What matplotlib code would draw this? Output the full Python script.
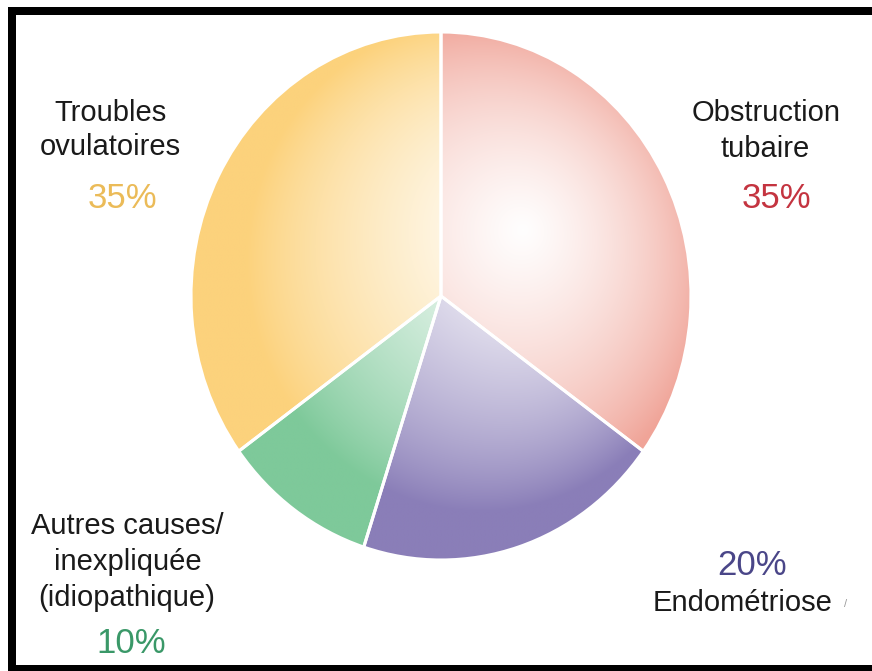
import numpy as np
import matplotlib
matplotlib.use('Agg')
import matplotlib.pyplot as plt
from matplotlib.patches import Rectangle

plt.rcParams['font.family'] = ['Liberation Sans', 'DejaVu Sans']

# Causes d'infertilité (ordre horaire depuis midi)
causes = ['Obstruction tubaire', 'Endométriose', 'Autres causes', 'Troubles ovulatoires']
parts = [35, 20, 10, 35]
rim_colors = ['#f0a498', '#8a7eb8', '#7ec99a', '#fcd27c']
pct_colors = ['#c43440', '#4a4688', '#3a9868', '#ebbb58']

W, H = 872, 671
fig = plt.figure(figsize=(W / 100, H / 100), dpi=100)
fig.patch.set_facecolor('white')

# axe du camembert : 1 unité = 250 px en x, 264 px en y (légèrement ovale)
cx, cy, rx, ry, lim = 441, 296, 250, 264, 1.1
ax = fig.add_axes([(cx - lim * rx) / W, 1 - (cy + lim * ry) / H,
                   2 * lim * rx / W, 2 * lim * ry / H])
wedges, _ = ax.pie(parts, startangle=90, counterclock=False, radius=1,
                   colors=rim_colors,
                   wedgeprops=dict(edgecolor='white', linewidth=2.2))

# dégradé radial : reflet clair en haut à droite du centre
g = np.linspace(-lim, lim, 700)
X, Y = np.meshgrid(g, g)
d = np.hypot(X - 0.33, Y - 0.25)
r = np.hypot(X, Y)
t = np.clip((d / 1.25) ** 1.1 + 0.3 * r ** 4, 0, 1)[..., None]

for w, c in zip(wedges, rim_colors):
    base = np.array(matplotlib.colors.to_rgb(c))
    img = 1 - t * (1 - base)
    im = ax.imshow(img, extent=(-lim, lim, -lim, lim), origin='lower',
                   zorder=0.5, interpolation='bilinear', aspect='auto')
    im.set_clip_path(w)
    w.set_facecolor('none')
    w.set_zorder(2)

ax.set_aspect('auto')
ax.set_xlim(-lim, lim)
ax.set_ylim(-lim, lim)
ax.axis('off')


def px_text(x, y, s, size=21, color='#1a1a1a'):
    fig.text(x / W, 1 - y / H, s, fontsize=size, color=color,
             ha='center', va='baseline')


# étiquettes
px_text(110, 121, 'Troubles')
px_text(110, 155, 'ovulatoires')
px_text(122, 208, f'{parts[3]}%', 25, pct_colors[3])

px_text(766, 121, 'Obstruction')
px_text(765, 157, 'tubaire')
px_text(776, 208, f'{parts[0]}%', 25, pct_colors[0])

px_text(127, 534, 'Autres causes/')
px_text(128, 570, 'inexpliquée')
px_text(127, 606, '(idiopathique)')
px_text(131, 653, f'{parts[2]}%', 25, pct_colors[2])

px_text(752, 575, f'{parts[1]}%', 25, pct_colors[1])
px_text(743, 611, 'Endométriose')
px_text(846, 607, '/', 8, '#9a9a9a')

# cadre noir
for x0, y0, w0, h0 in [(8, 7, 864, 8), (8, 7, 8, 664), (8, 665, 864, 6)]:
    fig.add_artist(Rectangle((x0 / W, 1 - (y0 + h0) / H), w0 / W, h0 / H,
                             transform=fig.transFigure, color='black', lw=0))

fig.savefig('out.png', dpi=100)
